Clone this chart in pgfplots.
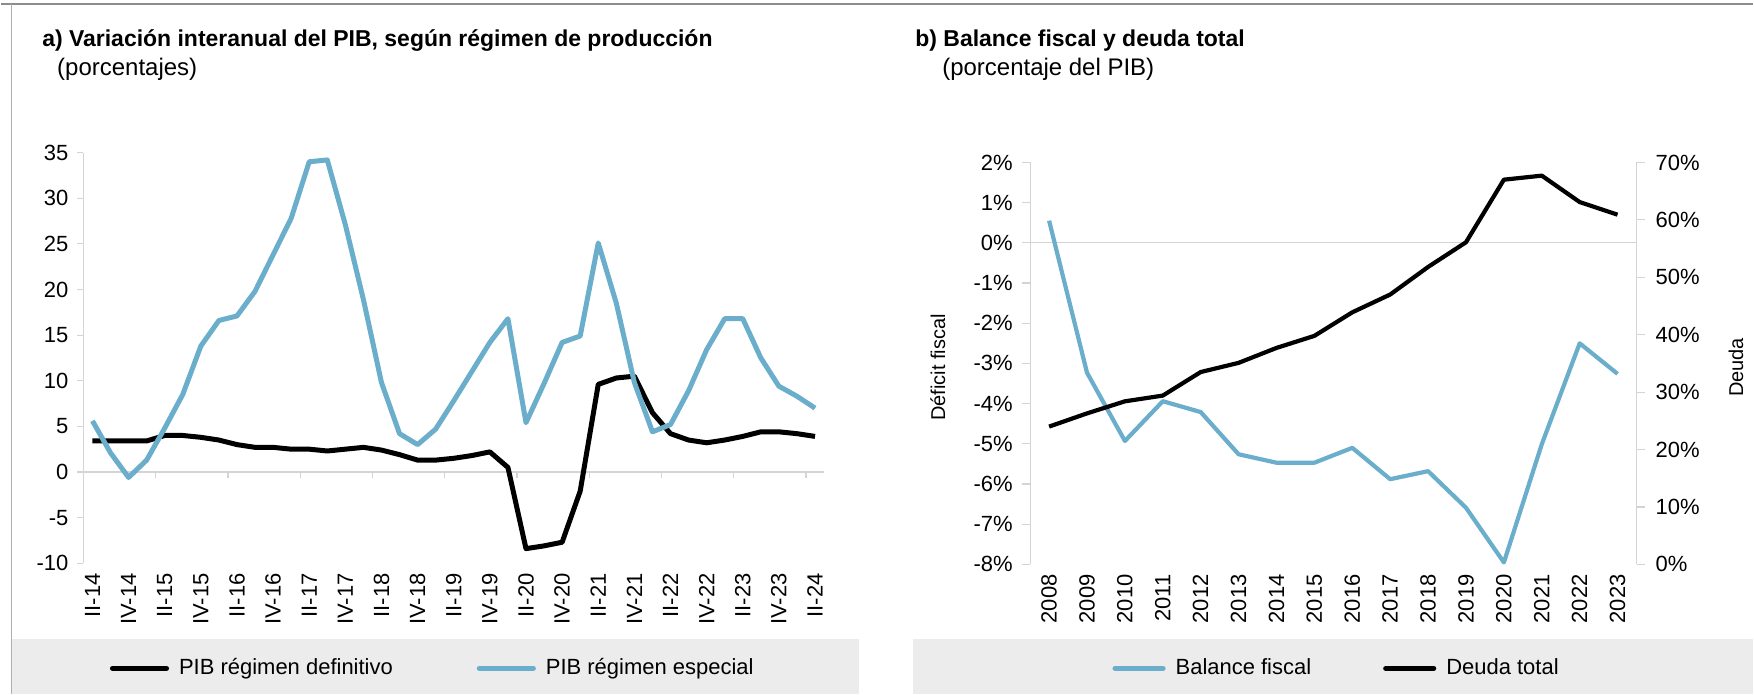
\documentclass[border=0pt]{standalone}
\usepackage{pgfplots}
\pgfplotsset{compat=1.18}
\usepackage{pgfplotstable}
\usepackage{fontspec}
\setmainfont{Liberation Sans}
\definecolor{azul}{HTML}{6AAECB}
\definecolor{axg}{HTML}{D4D4D4}
\definecolor{band}{HTML}{ECECEC}
\definecolor{framec}{HTML}{8C8C8C}

\pgfplotstableread{
i def esp
0 3.4 5.6
1 3.4 2.1
2 3.4 -0.6
3 3.4 1.3
4 4.0 4.8
5 4.0 8.5
6 3.8 13.8
7 3.5 16.6
8 3.0 17.1
9 2.7 19.8
10 2.7 23.8
11 2.5 27.8
12 2.5 34.0
13 2.3 34.2
14 2.5 27.1
15 2.7 18.9
16 2.4 9.8
17 1.9 4.2
18 1.3 3.0
19 1.3 4.7
20 1.5 7.8
21 1.8 11.0
22 2.2 14.2
23 0.5 16.8
24 -8.4 5.4
25 -8.1 9.7
26 -7.7 14.2
27 -2.1 14.9
28 9.6 25.1
29 10.3 18.5
30 10.5 9.8
31 6.5 4.4
32 4.2 5.2
33 3.5 8.9
34 3.2 13.4
35 3.5 16.8
36 3.9 16.8
37 4.4 12.5
38 4.4 9.4
39 4.2 8.3
40 3.9 7.0
}\pibdata

\pgfplotstableread{
year bal deuda
2008 0.55 24.0
2009 -3.23 26.3
2010 -4.93 28.4
2011 -3.94 29.4
2012 -4.21 33.5
2013 -5.26 35.1
2014 -5.47 37.7
2015 -5.47 39.8
2016 -5.10 43.9
2017 -5.88 47.0
2018 -5.68 51.8
2019 -6.59 56.1
2020 -7.95 67.0
2021 -5.01 67.7
2022 -2.50 63.1
2023 -3.26 60.9
}\fiscal

\begin{document}
\begin{tikzpicture}
\path (0pt,0pt) rectangle (877pt,347.5pt);
\fill[band] (5.5pt,0pt) rectangle (429.5pt,27.5pt);
\fill[band] (456.5pt,0pt) rectangle (877pt,27.5pt);
\draw[framec, line width=0.9pt] (0pt,345.5pt) -- (877pt,345.5pt);
\draw[framec!70, line width=0.6pt] (5.5pt,0pt) -- (5.5pt,345.5pt);

\node[anchor=base west, inner sep=0pt, font=\bfseries\fontsize{11.5}{13}\selectfont] at (20.5pt,324pt) {a) Variación interanual del PIB, según régimen de producción};
\node[anchor=base west, inner sep=0pt, font=\fontsize{12}{14}\selectfont] at (28pt,309.5pt) {(porcentajes)};
\node[anchor=base west, inner sep=0pt, font=\bfseries\fontsize{11.5}{13}\selectfont] at (457.5pt,324pt) {b) Balance fiscal y deuda total};
\node[anchor=base west, inner sep=0pt, font=\fontsize{12}{14}\selectfont] at (471pt,309.5pt) {(porcentaje del PIB)};

\pgfplotsset{
  /pgf/number format/assume math mode=true,
  /pgf/number format/1000 sep={},
}

% ---------- Panel a ----------
\begin{axis}[
  at={(41.3pt,65.6pt)}, anchor=south west,
  scale only axis, width=370.7pt, height=205.5pt,
  xmin=-0.5, xmax=40.5, ymin=-10, ymax=35,
  axis lines*=left,
  x axis line style={draw=none},
  y axis line style={axg, line width=0.6pt},
  ytick={-10,-5,...,35},
  xtick={0,2,...,40},
  xticklabels={II-14,IV-14,II-15,IV-15,II-16,IV-16,II-17,IV-17,II-18,IV-18,II-19,IV-19,II-20,IV-20,II-21,IV-21,II-22,IV-22,II-23,IV-23,II-24},
  tick align=outside, major tick length=3pt,
  xtick style={draw=none}, ytick style={axg, line width=0.6pt},
  tick label style={font=\fontsize{11}{13}\selectfont},
  yticklabel style={xshift=-1pt},
  xticklabel style={yshift=1.5pt, rotate=90, anchor=east},
  clip=false,
  legend image code/.code={\draw[#1, line width=2.6pt, line cap=round] (0pt,0pt) -- (27pt,0pt);},
  legend style={at={(0.473,-0.256)}, anchor=center, draw=none, fill=none,
    legend columns=2, font=\fontsize{11}{13}\selectfont,
    /tikz/every odd column/.append style={column sep=3pt},
    /tikz/every even column/.append style={column sep=40pt}},
  legend cell align=left,
]
\draw[axg, line width=0.6pt] (axis cs:-0.5,0) -- (axis cs:40.5,0);
\pgfplotsinvokeforeach{3.5,7.5,...,39.5}{\draw[axg, line width=0.6pt] (axis cs:#1,0) -- ++(0pt,-3pt);}
\addplot[black, line width=2.5pt, line join=round] table[x=i,y=def]{\pibdata};
\addlegendentry{PIB régimen definitivo}
\addplot[azul, line width=2.5pt, line join=round] table[x=i,y=esp]{\pibdata};
\addlegendentry{PIB régimen especial}
\end{axis}

% ---------- Panel b, left axis ----------
\begin{axis}[
  at={(515.15pt,65pt)}, anchor=south west,
  scale only axis, width=303.5pt, height=201.2pt,
  xmin=2007.5, xmax=2023.5, ymin=-8, ymax=2,
  axis lines*=left,
  x axis line style={draw=none},
  y axis line style={axg, line width=0.6pt},
  xtick={2008,2009,...,2023}, ytick={-8,-7,...,2},
  yticklabel={\pgfmathprintnumber{\tick}\%},
  tick align=outside, major tick length=4pt,
  xtick style={draw=none}, ytick style={axg, line width=0.6pt},
  tick label style={font=\fontsize{11}{13}\selectfont},
  yticklabel style={xshift=-1.2pt},
  xticklabel style={yshift=2.5pt, rotate=90, anchor=east},
  ylabel={Déficit fiscal},
  every axis y label/.style={at={(axis description cs:-0.152,0.49)}, rotate=90, anchor=center, font=\fontsize{10}{12}\selectfont},
  clip=false,
  legend image code/.code={\draw[#1, line width=2.6pt, line cap=round] (0pt,0pt) -- (24pt,0pt);},
  legend style={at={(0.507,-0.2585)}, anchor=center, draw=none, fill=none,
    legend columns=2, font=\fontsize{11}{13}\selectfont,
    /tikz/every odd column/.append style={column sep=3pt},
    /tikz/every even column/.append style={column sep=34pt}},
  legend cell align=left,
]
\draw[axg, line width=0.6pt] (axis cs:2007.5,0) -- (axis cs:2023.5,0);
\addplot[azul, line width=2.1pt, line join=round] table[x=year,y=bal]{\fiscal};
\addlegendentry{Balance fiscal}
\addlegendimage{black, line width=2.1pt}
\addlegendentry{Deuda total}
\end{axis}

% ---------- Panel b, right axis ----------
\begin{axis}[
  at={(515.15pt,65pt)}, anchor=south west,
  scale only axis, width=303.5pt, height=201.2pt,
  xmin=2007.5, xmax=2023.5, ymin=0, ymax=70,
  axis x line=none, axis y line*=right,
  y axis line style={axg, line width=0.6pt},
  ytick={0,10,...,70},
  yticklabel={\pgfmathprintnumber{\tick}\%},
  tick align=outside, major tick length=4pt,
  ytick style={axg, line width=0.6pt},
  tick label style={font=\fontsize{11}{13}\selectfont},
  yticklabel style={xshift=2pt},
  ylabel={Deuda},
  every axis y label/.style={at={(axis description cs:1.164,0.49)}, rotate=90, anchor=center, font=\fontsize{10}{12}\selectfont},
  clip=false,
]
\addplot[black, line width=2.1pt, line join=round] table[x=year,y=deuda]{\fiscal};
\end{axis}
\end{tikzpicture}
\end{document}
